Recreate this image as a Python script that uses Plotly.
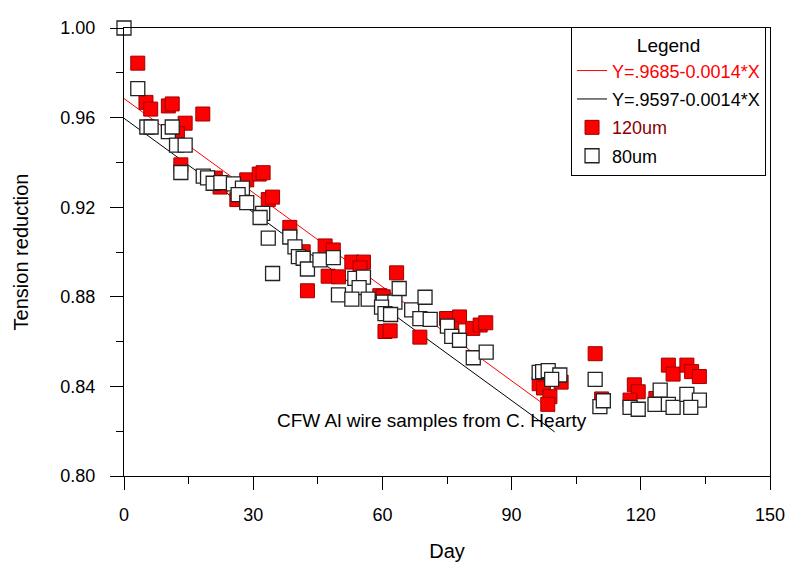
import plotly.graph_objects as go

# 120um samples (red filled squares)
day_120 = [3.2, 5.1, 6.2, 10.3, 11.2, 18.3, 14.2, 12.4, 13.2, 21.2, 22.3, 28.5, 26.2, 31.4, 32.3,
           33.5, 34.5, 38.5, 41.6, 42.6, 46.7, 48.6, 47.4, 49.8, 52.9, 55.6, 54.8, 59.4, 60.2,
           63.3, 60.6, 61.8, 68.7, 74.9, 77.9, 76.1, 81.0, 82.7, 84.0, 96.4, 97.4, 98.9, 98.4,
           101.5, 109.4, 110.9, 118.5, 119.4, 117.5, 123.5, 126.4, 127.5, 130.7, 131.8, 133.6]
ten_120 = [0.9843, 0.9668, 0.9638, 0.9652, 0.9661, 0.9616, 0.9575, 0.9528, 0.9389, 0.9330, 0.9290,
           0.9322, 0.9234, 0.9348, 0.9354, 0.9234, 0.9245, 0.9110, 0.9001, 0.8827, 0.9027, 0.9009,
           0.8892, 0.8889, 0.8955, 0.8955, 0.8929, 0.8805, 0.8800, 0.8907, 0.8645, 0.8648, 0.8620,
           0.8703, 0.8710, 0.8659, 0.8659, 0.8674, 0.8684, 0.8412, 0.8393, 0.8354, 0.8320, 0.8419,
           0.8546, 0.8344, 0.8407, 0.8376, 0.8339, 0.8346, 0.8495, 0.8455, 0.8495, 0.8466, 0.8444]

# 80um samples (white squares)
day_80 = [0.0, 3.2, 5.3, 6.3, 10.3, 11.2, 12.2, 14.2, 13.2, 18.4, 19.4, 20.7, 22.5, 25.4, 27.5,
          26.5, 28.5, 32.2, 31.6, 33.5, 38.5, 34.5, 39.7, 40.5, 41.6, 42.6, 45.5, 48.6, 53.6,
          55.6, 54.6, 49.8, 52.9, 56.7, 60.2, 62.9, 63.9, 59.8, 60.6, 61.9, 66.8, 69.9, 68.7,
          71.1, 75.1, 76.1, 77.9, 81.1, 84.1, 96.4, 97.2, 98.5, 101.2, 99.3, 109.4, 110.5,
          111.3, 117.5, 119.4, 124.5, 123.3, 126.4, 127.5, 130.7, 133.6, 131.6]
ten_80 = [1.0000, 0.9729, 0.9558, 0.9558, 0.9537, 0.9558, 0.9477, 0.9477, 0.9355, 0.9339, 0.9331,
          0.9307, 0.9310, 0.9304, 0.9285, 0.9256, 0.9220, 0.9172, 0.9154, 0.9062, 0.9067, 0.8904,
          0.9023, 0.8979, 0.8972, 0.8924, 0.8965, 0.8975, 0.8882, 0.8888, 0.8841, 0.8809, 0.8790,
          0.8790, 0.8776, 0.8776, 0.8837, 0.8754, 0.8725, 0.8721, 0.8742, 0.8798, 0.8703, 0.8699,
          0.8669, 0.8623, 0.8606, 0.8528, 0.8553, 0.8463, 0.8466, 0.8470, 0.8451, 0.8431, 0.8431,
          0.8310, 0.8336, 0.8306, 0.8298, 0.8383, 0.8320, 0.8320, 0.8306, 0.8364, 0.8339, 0.8306]

# Linear fits
fit_names = ["Y=.9685-0.0014*X", "Y=.9597-0.0014*X"]
fit_intercepts = [0.9685, 0.9597]
fit_slope = -0.0014
fit_x = [0, 100]

FONT = "Arial, Liberation Sans, sans-serif"

fig = go.Figure()

fit_colors = ["#ff0000", "#000000"]
for name, b, c in zip(fit_names, fit_intercepts, fit_colors):
    fig.add_trace(go.Scatter(
        x=fit_x, y=[b + fit_slope * xx for xx in fit_x], mode="lines",
        line=dict(color=c, width=1),
        name=f'<span style="color:{c}">{name}</span>',
        legendgroup=name,
    ))

fig.add_trace(go.Scatter(
    x=day_120, y=ten_120, mode="markers", cliponaxis=False,
    marker=dict(symbol="square", size=14, color="#ff0000",
                line=dict(color="#a00000", width=1)),
    name='<span style="color:#8b0000">120um</span>', legendgroup="120",
))
fig.add_trace(go.Scatter(
    x=day_80, y=ten_80, mode="markers", cliponaxis=False,
    marker=dict(symbol="square", size=14, color="#ffffff",
                line=dict(color="#222222", width=1.3)),
    name="80um", legendgroup="80",
))

fig.add_annotation(
    x=71.5, y=0.8249, xref="x", yref="y", text="CFW Al wire samples from C. Hearty",
    showarrow=False, font=dict(family=FONT, size=19, color="#000000"),
)

fig.update_layout(
    width=791, height=563,
    margin=dict(l=116, r=29, t=10, b=95),
    paper_bgcolor="white", plot_bgcolor="white",
    font=dict(family=FONT, size=18, color="#000000"),
    showlegend=True,
    legend=dict(
        x=0.692, y=1.003, xanchor="left", yanchor="top",
        bordercolor="#000000", borderwidth=1, bgcolor="white",
        title=dict(text="Legend", side="top center", font=dict(size=19)),
        font=dict(size=18), traceorder="grouped", tracegroupgap=2, itemwidth=30,
    ),
    xaxis=dict(
        range=[0, 150], tickvals=[0, 30, 60, 90, 120, 150],
        showline=True, linecolor="#000000", linewidth=1, mirror=True,
        ticks="outside", ticklen=13, tickcolor="#000000", ticklabelstandoff=9,
        minor=dict(dtick=15, ticks="outside", ticklen=7, tickcolor="#000000", showgrid=False),
        showgrid=False, zeroline=False,
        tickfont=dict(size=18),
        title=dict(text="Day", font=dict(size=20), standoff=20),
    ),
    yaxis=dict(
        range=[0.80, 1.00], tickvals=[0.80, 0.84, 0.88, 0.92, 0.96, 1.00], tickformat=".2f",
        showline=True, linecolor="#000000", linewidth=1, mirror=True,
        ticks="outside", ticklen=13, tickcolor="#000000", ticklabelstandoff=11,
        minor=dict(dtick=0.02, ticks="outside", ticklen=7, tickcolor="#000000", showgrid=False),
        showgrid=False, zeroline=False,
        tickfont=dict(size=18),
        title=dict(text="Tension reduction", font=dict(size=20), standoff=26),
    ),
)

fig.write_html("out.html")
